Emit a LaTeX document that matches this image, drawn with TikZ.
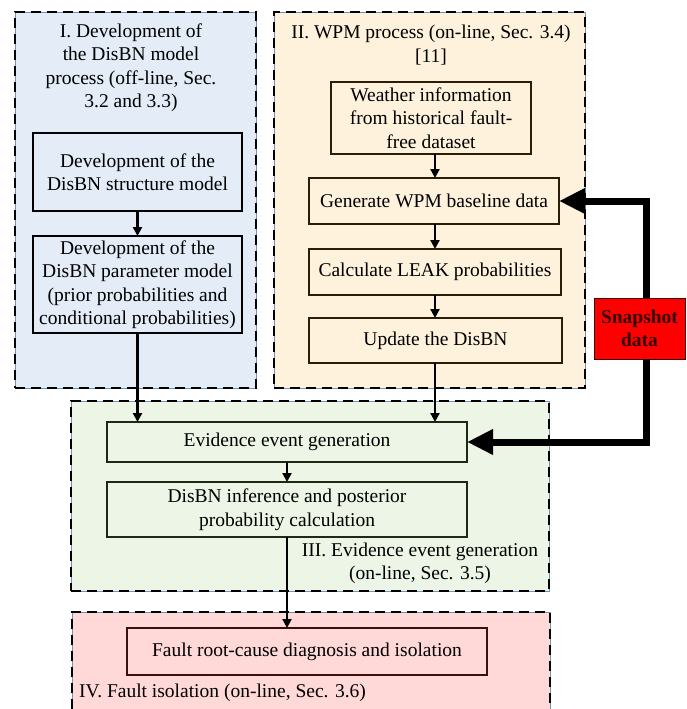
\documentclass[tikz,border=0pt]{standalone}
\usepackage{fontspec}
\setmainfont{Liberation Serif}
\usetikzlibrary{arrows.meta,calc}
\definecolor{pblue}{RGB}{227,236,247}
\definecolor{pcream}{RGB}{255,242,220}
\definecolor{pgreen}{RGB}{237,245,230}
\definecolor{ppink}{RGB}{255,216,216}
\definecolor{edgeblue}{RGB}{110,145,190}
\definecolor{snapred}{RGB}{255,0,0}
\definecolor{snaptext}{RGB}{50,0,0}
\begin{document}
\begin{tikzpicture}[x=1pt,y=-1pt,
  font=\fontsize{19.5}{23.5}\selectfont,
  panel/.style={draw=edgeblue, line width=0.8pt,
    postaction={draw=black, line width=2.6pt, dash pattern=on 10pt off 6pt},
    inner sep=0pt, outer sep=0pt},
  panelfill/.style={inner sep=0pt, outer sep=0pt},
  box/.style={draw=black, line width=1.5pt, align=center, inner sep=0pt, outer sep=0pt},
  lbl/.style={align=center, inner sep=0pt},
  arr/.style={line width=2.2pt, -{Triangle[length=9pt,width=9pt]}},
  thickarr/.style={line width=7pt, -{Triangle[length=26pt,width=24pt]}},
]
\useasboundingbox (0,0) rectangle (686,709);

% panels
\node[panel, fill=pblue, minimum width=241pt, minimum height=376pt] (P1) at (135.5,200) {};
\node[panel, fill=pcream, minimum width=311pt, minimum height=376pt] (P2) at (429.5,200) {};
\node[panel, fill=pgreen, minimum width=478pt, minimum height=190pt] (P3) at (310,496) {};
\node[panelfill, fill=ppink, minimum width=478pt, minimum height=97pt] (P4) at (311,660.5) {};
\draw[draw=edgeblue, line width=0.8pt,
    postaction={draw=black, line width=2.6pt, dash pattern=on 10pt off 6pt}]
  (P4.south west) -- (P4.north west) -- (P4.north east) -- (P4.south east);

% panel titles
\node[lbl] (T1) at (131,67.5) {I. Development of\\the DisBN model\\process (off-line, Sec.\\3.2 and 3.3)};
\node[lbl] (T2) at (431,45) {II. WPM process (on-line, Sec. 3.4)\\[0pt][11]};
\node[lbl] (T3) at (420,563.5) {III. Evidence event generation\\(on-line, Sec. 3.5)};
\node[lbl, anchor=west] (T4) at (79,693) {IV. Fault isolation (on-line, Sec. 3.6)};

% boxes of panel I
\node[box, minimum width=209pt, minimum height=78pt] (S1) at (137.5,172) {Development of the\\DisBN structure model};
\node[box, minimum width=209pt, minimum height=97pt] (S2) at (137.5,284.5) {Development of the\\DisBN parameter model\\(prior probabilities and\\conditional probabilities)};

% boxes of panel II
\node[box, draw={rgb,255:red,40;green,30;blue,10}, minimum width=200pt, minimum height=72pt] (W1) at (431,118) {Weather information\\from historical fault-\\free dataset};
\node[box, draw={rgb,255:red,40;green,30;blue,10}, minimum width=250pt, minimum height=46pt] (W2) at (434,201) {Generate WPM baseline data};
\node[box, draw={rgb,255:red,40;green,30;blue,10}, minimum width=252pt, minimum height=46pt] (W3) at (435,272) {Calculate LEAK probabilities};
\node[box, draw={rgb,255:red,40;green,30;blue,10}, minimum width=253pt, minimum height=45pt] (W4) at (435.5,340.5) {Update the DisBN};

% boxes of panel III
\node[box, draw={rgb,255:red,30;green,40;blue,20}, minimum width=360pt, minimum height=40pt] (E1) at (287,442) {Evidence event generation};
\node[box, draw={rgb,255:red,30;green,40;blue,20}, minimum width=360pt, minimum height=55pt] (E2) at (287,509.5) {DisBN inference and posterior\\probability calculation};

% box of panel IV
\node[box, draw={rgb,255:red,60;green,15;blue,15}, minimum width=360pt, minimum height=47pt] (F1) at (307,651.5) {Fault root-cause diagnosis and isolation};

% snapshot
\node[box, fill=snapred, draw={rgb,255:red,60;green,0;blue,0}, line width=1pt, text=snaptext, font=\fontsize{19.5}{23.5}\selectfont\bfseries, minimum width=91pt, minimum height=61pt] (Snap) at (639.5,328.5) {Snapshot\\data};

% connectors
\coordinate (cx) at (435,0);
\coordinate (sx) at (646,0);
\draw[arr] (S1.south) -- (S2.north);
\draw[arr] (S2.south) -- (S2.south |- E1.north);
\draw[arr] (cx |- W1.south) -- (cx |- W2.north);
\draw[arr] (cx |- W2.south) -- (cx |- W3.north);
\draw[arr] (cx |- W3.south) -- (cx |- W4.north);
\draw[arr] (cx |- W4.south) -- (cx |- E1.north);
\draw[arr] (E1.south) -- (E2.north);
\draw[arr] (E2.south) -- (E2.south |- F1.north);
\draw[thickarr] (sx |- Snap.north) |- (W2.east);
\draw[thickarr] (sx |- Snap.south) |- (E1.east);
\end{tikzpicture}
\end{document}
